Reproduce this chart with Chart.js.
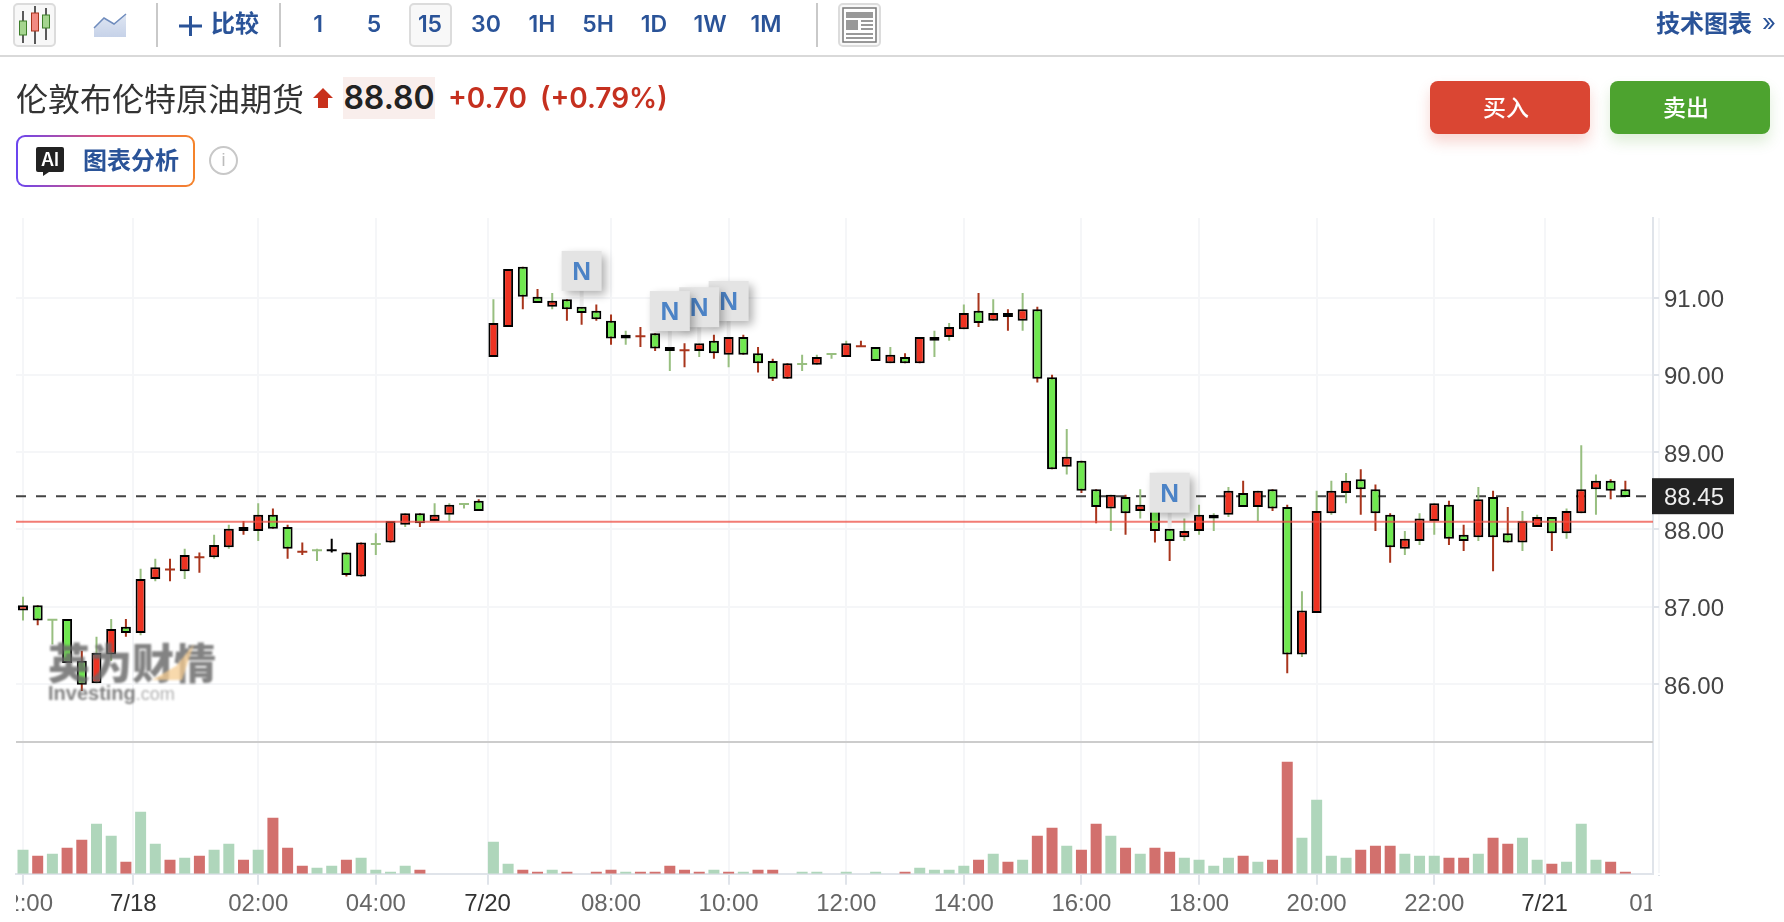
<!DOCTYPE html>
<html lang="zh-CN">
<head>
<meta charset="utf-8">
<title>伦敦布伦特原油期货</title>
<script src="https://cdn.jsdelivr.net/npm/chart.js@4"></script>
<style>
  html, body { margin: 0; padding: 0; background: #fff; }
  body { width: 1784px; height: 922px; position: relative; overflow: hidden;
         font-family: Inter, "Noto Sans CJK SC", sans-serif; }
  .abs { position: absolute; white-space: nowrap; }
  #chart { position: absolute; left: 0; top: 0; }
  .rule { position: absolute; background: #c9c9c9; width: 2px; top: 3px; height: 44px; }
  .tool { position: absolute; box-sizing: border-box; top: 3px; height: 44px; background: #f8f8f8;
          border: 2px solid #dcdcdc; border-radius: 5px; }
  .tf { position: absolute; top: 0; height: 48px; line-height: 48px; width: 50px; text-align: center;
        color: #2a5398; font-weight: 600; font-size: 23px; }
  .cta { position: absolute; top: 81px; width: 160px; height: 53px; line-height: 50px; border-radius: 8px; box-sizing: border-box;
         padding-right: 8px; color: #fff; text-align: center; font-size: 23px; font-family: "Noto Sans CJK SC"; font-weight: 500; }
  .mask { position: absolute; background: #fff; top: 876px; height: 46px; }
  #mark { left: 48px; top: 640px; opacity: .82; filter: blur(.8px); pointer-events: none; width: 170px; height: 66px; }
</style>
</head>
<body>
<canvas id="chart" width="1784" height="922"></canvas>
<div class="mask" style="left:0;width:16px"></div>
<div class="mask" style="left:1652px;width:132px"></div>

<!-- toolbar -->
<div class="tool" style="left:13px;width:43px">
  <svg width="39" height="40" style="display:block"><path d="M8 6v32M20 1v38M31 3v32" stroke="#333" stroke-width="1.6"/>
    <rect x="4.5" y="16" width="7" height="14" fill="#a5d58f" stroke="#3e7f2b"/>
    <rect x="16.5" y="8" width="7" height="18" fill="#f28b82" stroke="#a8351c"/>
    <rect x="27.5" y="10" width="7" height="13" fill="#a5d58f" stroke="#3e7f2b"/></svg>
</div>
<svg class="abs" style="left:93px;top:13px" width="35" height="25"><defs><linearGradient id="ar" x1="0" y1="0" x2="0" y2="1"><stop offset="0" stop-color="#dfe6f3"/><stop offset="1" stop-color="#c6d2e8"/></linearGradient></defs>
  <path d="M1 15L11 5L21 11L33 1V24H1Z" fill="url(#ar)"/><path d="M1 15L11 5L21 11L33 1" fill="none" stroke="#6f8cbd" stroke-width="1.5"/></svg>
<div class="rule" style="left:156px"></div>
<svg class="abs" style="left:179px;top:16px" width="23" height="20"><path d="M11.5 0v20M0 10h23" stroke="#2a5398" stroke-width="3"/></svg>
<div class="abs" style="left:211px;top:0;line-height:48px;font-size:24px;font-weight:700;color:#2a5398">比较</div>
<div class="rule" style="left:279px"></div>
<div class="tool" style="left:409px;width:43px"></div>
<div class="tf" style="left:293px">1</div>
<div class="tf" style="left:349px">5</div>
<div class="tf" style="left:405px">15</div>
<div class="tf" style="left:461px">30</div>
<div class="tf" style="left:517px">1H</div>
<div class="tf" style="left:573px">5H</div>
<div class="tf" style="left:629px">1D</div>
<div class="tf" style="left:685px">1W</div>
<div class="tf" style="left:741px">1M</div>
<div class="rule" style="left:816px"></div>
<div class="tool" style="left:838px;width:43px">
  <svg width="39" height="40" style="display:block"><rect x="3" y="3" width="33" height="34" fill="#fff" stroke="#777" stroke-width="1.5"/>
    <rect x="6" y="7" width="27" height="6" fill="#999"/><rect x="6" y="15" width="12" height="10" fill="#999"/>
    <path d="M21 16h12M21 20h12M21 24h12M6 29h27M6 33h27" stroke="#999" stroke-width="2"/></svg>
</div>
<div class="abs" style="left:1656px;top:0;line-height:48px;font-size:24px;font-weight:700;color:#2a5398">技术图表</div>
<div class="abs" style="left:1762px;top:0;line-height:46px;font-size:24px;color:#2a5398">»</div>
<div class="abs" style="left:0;top:55px;width:1784px;height:2px;background:#d9d9d9"></div>

<!-- title row -->
<div class="abs" style="left:16px;top:76px;line-height:42px;font-size:32px;color:#333;font-family:'Noto Sans CJK SC'">伦敦布伦特原油期货</div>
<svg class="abs" style="left:313px;top:88px" width="20" height="20"><path d="M10 0L20 10H15V20H5V10H0Z" fill="#c8311c"/></svg>
<div class="abs" style="left:343px;top:77px;width:92px;height:42px;line-height:42px;background:#f9eeec;text-align:center;font-size:32px;font-weight:600;color:#222">88.80</div>
<div class="abs" style="left:448px;top:77px;line-height:42px;font-size:28px;font-weight:600;color:#c5301f">+0.70</div>
<div class="abs" style="left:540px;top:77px;line-height:42px;font-size:28px;font-weight:600;color:#c5301f">(+0.79%)</div>
<div class="cta" style="left:1430px;background:#da4633;box-shadow:0 8px 14px rgba(218,70,51,.22)">买入</div>
<div class="cta" style="left:1610px;background:#4da32f;box-shadow:0 8px 14px rgba(77,163,47,.18)">卖出</div>

<!-- ai row -->
<div class="abs" style="left:16px;top:135px;width:179px;height:52px;box-sizing:border-box;border:2px solid transparent;border-radius:9px;background:linear-gradient(#fff,#fff) padding-box,linear-gradient(90deg,#6a45f0,#e5566e,#f5842a) border-box"></div>
<svg class="abs" style="left:35px;top:146px" width="30" height="30"><path d="M3 1H27Q29 1 29 3V24Q29 26 27 26H14L8 30V26H3Q1 26 1 24V3Q1 1 3 1Z" fill="#222"/></svg>
<div class="abs" style="left:35px;top:146px;width:30px;line-height:27px;text-align:center;color:#fff;font-size:18px;font-weight:600">AI</div>
<div class="abs" style="left:83px;top:135px;line-height:52px;font-size:24px;font-weight:700;color:#2a5398">图表分析</div>
<div class="abs" style="left:209px;top:146px;width:29px;height:29px;box-sizing:border-box;border:2px solid #c8c8c8;border-radius:50%;line-height:25px;text-align:center;color:#bcbcbc;font-size:18px;font-family:'Liberation Sans'">i</div>

<!-- watermark -->
<div class="abs" id="mark">
  <div class="abs" style="left:0;top:-3px;line-height:48px;font-size:42px;font-weight:900;color:#686868;font-family:'Noto Sans CJK SC'">英为财情</div>
  <svg class="abs" style="left:100px;top:2px" width="50" height="40"><path d="M4 38L28 24L46 2L34 38Z" fill="#f3c078" opacity=".75"/></svg>
  <div class="abs" style="left:0;top:41px;line-height:24px;font-size:20px;font-weight:700;color:#666;font-family:'Liberation Sans'">Investing<span style="font-weight:400;color:#a0a0a0;font-size:18px">.com</span></div>
</div>

<script>
const opens = [86.95,87.02,86.83,86.84,86.30,86.01,86.38,86.74,86.66,87.36,
  87.48,87.46,87.64,87.64,87.77,87.98,87.98,88.19,88.03,87.71,
  87.73,87.73,87.70,87.39,87.81,87.83,88.06,88.21,88.11,88.19,
  88.33,88.37,90.23,90.62,91.40,91.01,90.88,90.98,90.88,90.83,
  90.70,90.47,90.50,90.54,90.36,90.32,90.31,90.44,90.26,90.49,
  90.28,90.18,89.95,90.14,90.13,90.27,90.23,90.37,90.36,90.15,
  90.23,90.15,90.44,90.49,90.59,90.83,90.70,90.75,90.70,90.85,
  89.97,88.81,88.89,88.52,88.27,88.42,88.24,88.32,88.01,87.90,
  87.98,88.14,88.19,88.47,88.29,88.52,88.29,86.38,86.92,88.21,
  88.47,88.65,88.52,88.19,87.75,87.85,88.11,88.32,87.93,87.90,
  88.42,87.95,87.83,88.03,88.16,87.95,88.21,88.52,88.63,88.52];
const closes = [87.02,86.82,86.83,86.27,85.99,86.40,86.71,86.66,87.36,87.51,
  87.48,87.67,87.64,87.80,88.01,88.03,88.19,88.01,87.75,87.71,
  87.73,87.73,87.41,87.83,87.81,88.11,88.21,88.08,88.19,88.32,
  88.33,88.24,90.67,91.37,91.01,90.93,90.96,90.85,90.80,90.72,
  90.47,90.52,90.50,90.34,90.31,90.32,90.41,90.28,90.49,90.26,
  90.15,89.95,90.15,90.14,90.23,90.27,90.41,90.37,90.18,90.26,
  90.15,90.49,90.49,90.62,90.80,90.67,90.80,90.80,90.85,89.95,
  88.78,88.94,88.50,88.29,88.45,88.21,88.32,87.98,87.85,87.98,
  88.19,88.19,88.50,88.29,88.50,88.27,86.38,86.95,88.24,88.50,
  88.63,88.52,88.21,87.77,87.88,88.14,88.34,87.88,87.85,88.39,
  87.90,87.83,88.11,88.16,87.95,88.24,88.52,88.63,88.50,88.42];
const highs = [87.13,87.02,86.84,86.84,86.43,86.61,86.84,86.84,87.49,87.62,
  87.62,87.75,87.70,87.93,88.06,88.11,88.34,88.27,88.06,87.83,
  87.75,87.88,87.70,87.83,87.95,88.11,88.21,88.21,88.34,88.34,
  88.34,88.39,90.98,91.37,91.40,91.11,91.06,90.98,90.88,90.91,
  90.78,90.57,90.62,90.54,90.36,90.41,90.47,90.52,90.54,90.52,
  90.36,90.21,90.15,90.26,90.26,90.28,90.44,90.44,90.36,90.36,
  90.28,90.49,90.57,90.67,90.91,91.06,90.98,90.85,91.06,90.88,
  90.00,89.30,88.89,88.52,88.45,88.45,88.52,88.32,88.01,88.14,
  88.32,88.21,88.55,88.63,88.50,88.52,88.32,87.20,88.50,88.63,
  88.73,88.78,88.58,88.21,87.98,88.21,88.34,88.37,88.06,88.55,
  88.50,88.29,88.24,88.19,88.16,88.27,89.09,88.71,88.65,88.63];
const lows = [86.82,86.76,86.51,86.27,85.91,86.01,86.30,86.61,86.63,87.33,
  87.33,87.36,87.44,87.62,87.75,87.93,87.85,88.01,87.62,87.67,
  87.59,87.70,87.39,87.39,87.67,87.83,88.03,88.03,88.11,88.11,
  88.27,88.24,90.23,90.62,90.85,90.93,90.85,90.70,90.65,90.70,
  90.39,90.39,90.36,90.31,90.05,90.10,90.23,90.21,90.10,90.26,
  90.03,89.92,89.95,90.05,90.13,90.21,90.23,90.36,90.18,90.15,
  90.15,90.15,90.23,90.44,90.59,90.62,90.70,90.57,90.57,89.90,
  88.78,88.71,88.47,88.08,87.98,87.93,88.14,87.83,87.59,87.85,
  87.93,87.98,88.16,88.29,88.11,88.24,86.14,86.35,86.92,88.19,
  88.34,88.19,87.98,87.57,87.67,87.80,87.93,87.80,87.72,87.85,
  87.46,87.83,87.72,88.03,87.72,87.88,88.21,88.19,88.39,88.42];
// wick colour does not follow the body on this chart: g, r or k
const wickTones = ("g r g g r g g r g g " + "r g r g g r g r r r " + "g k r r g r g r g g " + "g r g r r r g r r r " +
  "r g r r g r g r g r " + "r r r g g g g r g g " + "r r g g g r g r g r " + "r g r r g r g r r g " +
  "g g g r g r r g g g " + "g r r r g g g r r g " + "r r g g r g g g r r").trim().split(" ");
const volumes = [24,18,20,26,34,50,38,12,62,30,14,16,18,24,30,14,24,56,26,8,
  6,8,14,16,4,2,8,4,0,0,0,0,32,10,4,2,4,2,0,2,
  4,2,2,2,8,4,2,4,2,2,4,4,0,2,2,0,2,0,2,0,
  2,6,4,4,8,14,20,12,14,38,46,28,24,50,38,26,20,26,22,16,
  14,8,16,18,12,14,112,36,74,18,16,24,28,28,20,18,18,16,16,20,
  36,30,36,14,10,12,50,14,12,2];
const volumeTones = ("g r g r r g g r g g " + "r g r g g r g r r r " + "g g r g g g g r r r " + "r r g g r r g r r r " +
  "r g r r r r r g r g " + "r r r g g g g r g r " + "r g g g g r g r g r " + "r g r r g r g r r g " +
  "g g g r g r r g g g " + "g r r r g g g r r g " + "r r g g r g g g r r").trim().split(" ");
const priceTicks = [86, 87, 88, 89, 90, 91];
const xTickIndex = [0, 7.5, 16, 24, 31.6, 40, 48, 56, 64, 72, 80, 88, 96, 103.5, 111.3];
const xTickLabels = ["22:00", "7/18", "02:00", "04:00", "7/20", "08:00", "10:00", "12:00", "14:00", "16:00", "18:00", "20:00", "22:00", "7/21", "01:00"];
const newsFlagIndex = [38, 48, 46, 44, 78];
const prevClose = 88.10;
const lastPriceLevel = 88.43;
const lastPriceLabel = "88.45";
const panelBreak = 85.25;

const X_MIN = -0.476, X_MAX = 110.88;
const wickColors = { g: "#98bf80", r: "#a8351c", k: "#000" };
const volColors = { g: "#afd6bb", r: "#d2706d" };
const idx = opens.map((_, i) => i);

function hLine(value, extra) {
  return Object.assign({
    type: "line", yAxisID: "y", pointRadius: 0, borderWidth: 2, fill: false,
    data: [{ x: X_MIN, y: value }, { x: X_MAX, y: value }],
  }, extra);
}

// price tag and the N markers sit on top of the candles
const overlayPlugin = {
  id: "overlay",
  afterDatasetsDraw(chart) {
    const { ctx, scales } = chart;
    newsFlagIndex.forEach((i) => {
      const x = scales.x.getPixelForValue(i);
      const bodyTop = scales.y.getPixelForValue(Math.max(opens[i], closes[i]));
      const boxBottom = bodyTop - 16;
      ctx.save();
      ctx.fillStyle = "#eeeeee";
      ctx.fillRect(x - 2, boxBottom, 4, 16);
      ctx.shadowColor = "rgba(0,0,0,.32)";
      ctx.shadowBlur = 9;
      ctx.shadowOffsetX = 4;
      ctx.shadowOffsetY = 4;
      ctx.fillStyle = "#e4e4e4";
      ctx.fillRect(x - 20, boxBottom - 40, 40, 40);
      ctx.restore();
      ctx.fillStyle = "#4c83c6";
      ctx.font = "bold 26px 'Liberation Sans'";
      ctx.textAlign = "center";
      ctx.textBaseline = "middle";
      ctx.fillText("N", x, boxBottom - 18);
    });
  },
  afterDraw(chart) {
    const { ctx, scales, chartArea } = chart;
    const y = scales.y.getPixelForValue(lastPriceLevel);
    ctx.fillStyle = "#222";
    ctx.fillRect(chartArea.right - 1, y - 18, 82, 36);
    ctx.fillStyle = "#eee";
    ctx.font = "24px 'Liberation Sans'";
    ctx.textAlign = "left";
    ctx.textBaseline = "middle";
    ctx.fillText(lastPriceLabel, chartArea.right + 11, y + 2);
  },
};

new Chart(document.getElementById("chart").getContext("2d"), {
  type: "bar",
  plugins: [overlayPlugin],
  data: {
    datasets: [
      hLine(prevClose, { borderColor: "rgba(238,80,70,.75)", order: 1 }),
      hLine(panelBreak, { borderColor: "#cccccc", order: 2 }),
      {
        // doji candles have no body, only a dash in the wick colour
        type: "line", showLine: false, order: 3, yAxisID: "y",
        data: idx.filter((i) => opens[i] === closes[i]).map((i) => ({ x: i, y: opens[i] })),
        pointStyle: "line", pointRadius: 5, pointBorderWidth: 2,
        pointBorderColor: idx.filter((i) => opens[i] === closes[i]).map((i) => wickColors[wickTones[i]]),
      },
      {
        label: "body", order: 4, yAxisID: "y", grouped: false, barThickness: 10,
        data: idx.map((i) => ({ x: i, y: opens[i] === closes[i] ? null : [opens[i], closes[i]] })),
        backgroundColor: idx.map((i) => (closes[i] > opens[i] ? "#ee3322" : "#70e850")),
        borderColor: "#000", borderWidth: 2, borderSkipped: false, inflateAmount: 0,
      },
      {
        label: "wick", order: 5, yAxisID: "y", grouped: false, barThickness: 2,
        data: idx.map((i) => ({ x: i, y: [lows[i], highs[i]] })),
        backgroundColor: wickTones.map((t) => wickColors[t]), inflateAmount: 0,
      },
      hLine(lastPriceLevel, { borderColor: "#444", borderDash: [10, 10], order: 6 }),
      {
        label: "volume", order: 7, yAxisID: "v", grouped: false, barThickness: 11,
        data: volumes.map((v, i) => ({ x: i, y: v })),
        backgroundColor: volumeTones.map((t) => volColors[t]), inflateAmount: 0,
      },
    ],
  },
  options: {
    responsive: false,
    animation: false,
    devicePixelRatio: 1,
    events: [],
    layout: { autoPadding: false, padding: { top: 218, left: 16, right: 0, bottom: 0 } },
    plugins: { legend: { display: false }, tooltip: { enabled: false } },
    scales: {
      x: {
        type: "linear", offset: false, min: X_MIN, max: X_MAX,
        afterBuildTicks: (s) => { s.ticks = xTickIndex.map((value) => ({ value })); },
        afterFit: (s) => { s.height = 48.3; s.paddingLeft = 0; s.paddingRight = 0; },
        border: { color: "#e0e4ea", width: 2 },
        grid: { offset: false, color: "#f5f6f8", lineWidth: 2, tickColor: "#e0e4ea", tickLength: 11 },
        ticks: {
          autoSkip: false, maxRotation: 0, padding: 5,
          font: { family: "'Liberation Sans'", size: 24 },
          color: (c) => (xTickLabels[c.index].includes("/") ? "#333" : "#666"),
          callback: (v, i) => xTickLabels[i],
        },
      },
      y: {
        position: "right", min: 83.545, max: 92.03,
        afterBuildTicks: (s) => { s.ticks = priceTicks.map((value) => ({ value })); },
        afterFit: (s) => { s.width = 131; s.paddingTop = 0; s.paddingBottom = 0; },
        border: { color: "#e0e4ea", width: 2 },
        grid: { color: "#f5f6f8", lineWidth: 2, tickColor: "#e0e4ea", tickLength: 6 },
        ticks: {
          padding: 5, color: "#444", labelOffset: 3,
          font: { family: "'Liberation Sans'", size: 24 },
          callback: (v) => v.toFixed(2),
        },
      },
      // one volume unit is one pixel tall, the panel only uses the bottom of the area
      v: { display: false, min: 0, max: 655.7 },
    },
  },
});
</script>
</body>
</html>
